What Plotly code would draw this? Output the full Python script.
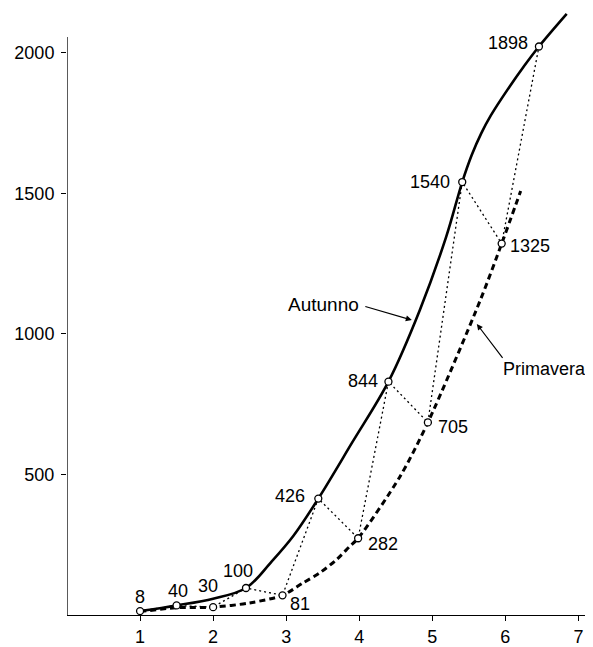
import plotly.graph_objects as go

# Measured points, in zig-zag (chronological) order
point_x = [1.0, 1.5, 2.0, 2.45, 2.95, 3.44, 3.985, 4.40, 4.94, 5.41, 5.95, 6.46]
point_y = [14, 34, 28, 96, 70, 414, 273, 830, 685, 1540, 1321, 2022]
point_labels = ["8", "40", "30", "100", "81", "426", "282", "844", "705", "1540", "1325", "1898"]

# Autunno (solid) curve
autunno_x = [1.0, 1.5, 2.0, 2.45, 2.8, 3.1, 3.44, 3.9, 4.40, 4.83, 5.19, 5.41, 5.54, 5.67, 5.8, 6.06, 6.25, 6.46, 6.84]
autunno_y = [14, 34, 58, 96, 190, 282, 414, 612, 830, 1085, 1345, 1540, 1636, 1713, 1776, 1880, 1950, 2022, 2138]

# Primavera (dashed) curve
primavera_x = [1.0, 1.5, 2.0, 2.5, 2.95, 3.23, 3.46, 3.69, 3.87, 3.985, 4.555, 4.94, 5.65, 5.95, 6.21]
primavera_y = [12, 26, 28, 43, 70, 114, 150, 197, 244, 273, 491, 685, 1115, 1321, 1508]

x_ticks = [1, 2, 3, 4, 5, 6, 7]
y_ticks = [500, 1000, 1500, 2000]

# label offsets (pixels) relative to each point: (xshift, yshift)
label_offsets = [(0, 14), (1, 14), (-5, 21), (-8, 17), (17, -9), (-28, 3),
                 (25, -6), (-25, 1), (25, -5), (-32, 0), (28, -2), (-31, 4)]

FONT = "Liberation Sans, Arial, sans-serif"
fig = go.Figure()

fig.add_trace(go.Scatter(x=autunno_x, y=autunno_y, mode="lines",
                         line=dict(color="black", width=2.6, shape="spline", smoothing=1.0),
                         showlegend=False, hoverinfo="skip"))
fig.add_trace(go.Scatter(x=primavera_x, y=primavera_y, mode="lines",
                         line=dict(color="black", width=3, dash="6px,4px", shape="spline", smoothing=0.8),
                         showlegend=False, hoverinfo="skip"))
fig.add_trace(go.Scatter(x=point_x, y=point_y, mode="lines+markers",
                         line=dict(color="black", width=1.3, dash="2px,3px"),
                         marker=dict(symbol="circle", size=7, color="white",
                                     line=dict(color="black", width=1.3)),
                         showlegend=False))

annotations = []
for xv, yv, lab, (dx, dy) in zip(point_x, point_y, point_labels, label_offsets):
    annotations.append(dict(x=xv, y=yv, text=lab, showarrow=False, xshift=dx, yshift=dy,
                            font=dict(family=FONT, size=18, color="black")))

# series name labels with arrows
annotations.append(dict(x=4.72, y=1049, ax=4.063, ay=1099, axref="x", ayref="y", text="",
                        showarrow=True, arrowhead=2, arrowsize=1, arrowwidth=1.2, arrowcolor="black"))
annotations.append(dict(x=4.02, y=1106, text="Autunno", showarrow=False, xanchor="right",
                        font=dict(family=FONT, size=19, color="black")))
annotations.append(dict(x=5.61, y=1035, ax=5.978, ay=909, axref="x", ayref="y", text="",
                        showarrow=True, arrowhead=2, arrowsize=1, arrowwidth=1.2, arrowcolor="black"))
annotations.append(dict(x=5.94, y=874, text="Primavera", showarrow=False, xanchor="left",
                        font=dict(family=FONT, size=18, color="black")))

fig.update_layout(
    width=585, height=639,
    margin=dict(l=59, r=0, t=0, b=28),
    plot_bgcolor="white", paper_bgcolor="white",
    font=dict(family=FONT, size=18, color="black"),
    annotations=annotations,
    shapes=[dict(type="line", xref="x", yref="y", x0=0, x1=0, y0=0, y1=2056,
                 line=dict(color="black", width=1.3))],
    xaxis=dict(range=[0, 7.2], tickvals=x_ticks, showline=True, linecolor="black", linewidth=1.3,
               ticks="outside", ticklen=5, tickcolor="black", showgrid=False, zeroline=False,
               tickfont=dict(family=FONT, size=18)),
    yaxis=dict(range=[0, 2159], tickvals=y_ticks, showline=False,
               ticks="outside", ticklen=5, tickcolor="black", showgrid=False, zeroline=False,
               ticklabelstandoff=3, tickfont=dict(family=FONT, size=18)),
)

fig.write_html("out.html")
